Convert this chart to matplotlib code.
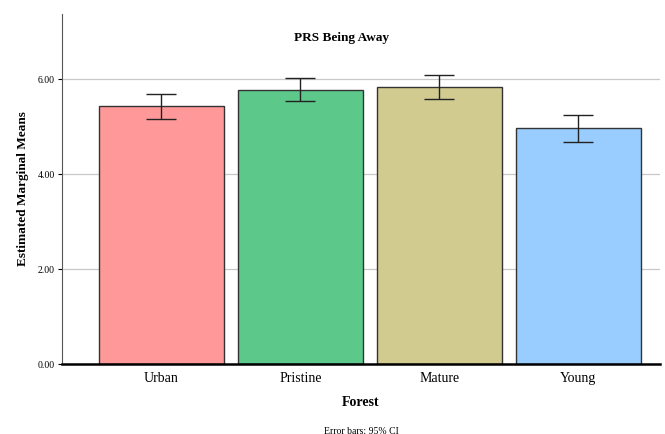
import matplotlib
matplotlib.use("Agg")
import matplotlib.pyplot as plt
import numpy as np

categories = ["Urban", "Pristine", "Mature", "Young"]
means = [5.43, 5.77, 5.83, 4.97]
ci_low = [5.16, 5.54, 5.58, 4.67]
ci_high = [5.68, 6.02, 6.08, 5.24]
colors = ["#ff9999", "#5cc98b", "#d1cb8f", "#99ccff"]
yticks = [0, 2, 4, 6]

plt.rcParams["font.family"] = ["Liberation Serif", "DejaVu Serif"]

fig = plt.figure(figsize=(6.65, 4.34), dpi=100)
ax = fig.add_axes([62/665, 70/434, 598/665, 350/434])

x = np.arange(len(categories))
yerr = [np.array(means) - np.array(ci_low), np.array(ci_high) - np.array(means)]
ax.bar(x, means, width=0.9, color=colors, edgecolor="#333333", linewidth=1.0, zorder=3)
ax.errorbar(x, means, yerr=yerr, fmt="none", ecolor="#222222", elinewidth=1.0,
            capsize=11, capthick=1.0, zorder=4)

ax.set_xlim(-0.716, 3.59)
ax.set_ylim(0, 7.37)
ax.set_yticks(yticks)
ax.set_yticklabels([f"{v:.2f}" for v in yticks], fontsize=7)
ax.set_xticks(x)
ax.set_xticklabels(categories, fontsize=10)
ax.tick_params(axis="x", length=0, pad=6)
ax.tick_params(axis="y", length=3, width=0.8, pad=2)
ax.grid(axis="y", color="#c8c8c8", linewidth=0.9, zorder=0)
for s in ["top", "right"]:
    ax.spines[s].set_visible(False)
ax.spines["left"].set_color("#555555")
ax.spines["left"].set_linewidth(0.8)
ax.spines["bottom"].set_color("black")
ax.spines["bottom"].set_linewidth(1.8)
ax.spines["bottom"].set_zorder(5)

ax.set_ylabel("Estimated Marginal Means", fontsize=9.5, fontweight="bold", labelpad=6)
fig.text(342/665, 1 - 38/434, "PRS Being Away", ha="center", va="center",
         fontsize=9.5, fontweight="bold")
fig.text(361/665, 1 - 403/434, "Forest", ha="center", va="center",
         fontsize=10, fontweight="bold")
fig.text(361/665, 1 - 431/434, "Error bars: 95% CI", ha="center", va="center",
         fontsize=7)

fig.savefig("out.png", dpi=100)
